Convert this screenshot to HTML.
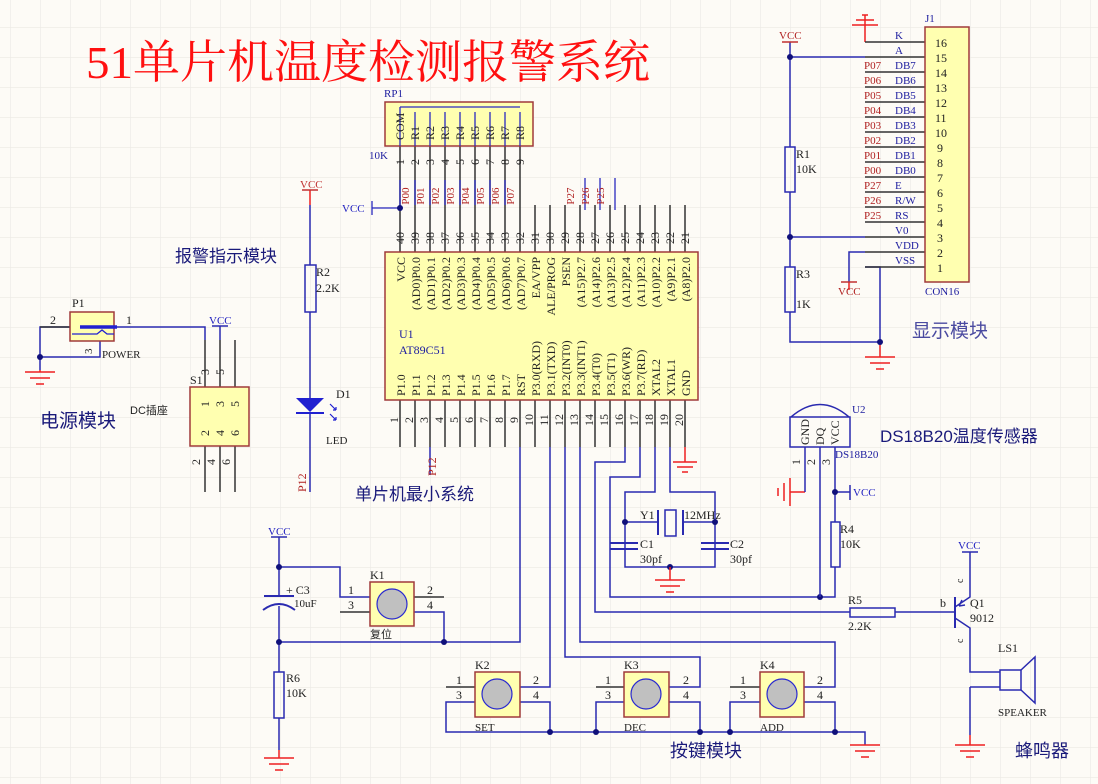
<!DOCTYPE html>
<html><head><meta charset="utf-8"><style>
html,body{margin:0;padding:0;background:#fdfbf6}
svg{display:block}
text{font-family:"Liberation Serif","Noto Serif CJK SC",serif}
.cn{font-family:"Liberation Sans","Noto Sans CJK SC",sans-serif}
</style></head><body>
<svg width="1098" height="784" viewBox="0 0 1098 784" xmlns="http://www.w3.org/2000/svg">
<defs>
<pattern id="g" x="10" y="27" width="30" height="30" patternUnits="userSpaceOnUse">
<path d="M0 0H30M0 0V30" stroke="#ebe9e4" stroke-width="1.2" fill="none"/>
</pattern>
</defs>
<rect width="1098" height="784" fill="#fdfbf6"/>
<rect width="1098" height="784" fill="url(#g)"/>

<!-- Title -->
<text x="86" y="78" font-size="46" fill="#ff1010" textLength="564" lengthAdjust="spacingAndGlyphs" style="font-family:'Liberation Serif','Noto Serif CJK SC',serif">51单片机温度检测报警系统</text>

<!-- ===== U1 ===== -->
<g stroke="#333" stroke-width="1.5">
<line x1="400" y1="222" x2="400" y2="252"/><line x1="415" y1="222" x2="415" y2="252"/><line x1="430" y1="222" x2="430" y2="252"/><line x1="445" y1="222" x2="445" y2="252"/><line x1="460" y1="222" x2="460" y2="252"/><line x1="475" y1="222" x2="475" y2="252"/><line x1="490" y1="222" x2="490" y2="252"/><line x1="505" y1="222" x2="505" y2="252"/><line x1="520" y1="222" x2="520" y2="252"/><line x1="535" y1="205" x2="535" y2="252"/><line x1="550" y1="205" x2="550" y2="252"/><line x1="565" y1="205" x2="565" y2="252"/><line x1="580" y1="205" x2="580" y2="252"/><line x1="595" y1="205" x2="595" y2="252"/><line x1="610" y1="205" x2="610" y2="252"/><line x1="625" y1="205" x2="625" y2="252"/><line x1="640" y1="205" x2="640" y2="252"/><line x1="655" y1="205" x2="655" y2="252"/><line x1="670" y1="205" x2="670" y2="252"/><line x1="685" y1="205" x2="685" y2="252"/>
<line x1="400" y1="400" x2="400" y2="447"/><line x1="415" y1="400" x2="415" y2="447"/><line x1="430" y1="400" x2="430" y2="447"/><line x1="445" y1="400" x2="445" y2="447"/><line x1="460" y1="400" x2="460" y2="447"/><line x1="475" y1="400" x2="475" y2="447"/><line x1="490" y1="400" x2="490" y2="447"/><line x1="505" y1="400" x2="505" y2="447"/><line x1="520" y1="400" x2="520" y2="447"/><line x1="535" y1="400" x2="535" y2="447"/><line x1="550" y1="400" x2="550" y2="447"/><line x1="565" y1="400" x2="565" y2="447"/><line x1="580" y1="400" x2="580" y2="447"/><line x1="595" y1="400" x2="595" y2="447"/><line x1="610" y1="400" x2="610" y2="447"/><line x1="625" y1="400" x2="625" y2="447"/><line x1="640" y1="400" x2="640" y2="447"/><line x1="655" y1="400" x2="655" y2="447"/><line x1="670" y1="400" x2="670" y2="447"/><line x1="685" y1="400" x2="685" y2="447"/>
</g>
<rect x="385" y="252" width="313" height="148" fill="#ffffb0" stroke="#a03a3a" stroke-width="1.5"/>
<g font-size="12" fill="#222">
<text transform="translate(404,238) rotate(-90)" text-anchor="middle">40</text><text transform="translate(419,238) rotate(-90)" text-anchor="middle">39</text><text transform="translate(434,238) rotate(-90)" text-anchor="middle">38</text><text transform="translate(449,238) rotate(-90)" text-anchor="middle">37</text><text transform="translate(464,238) rotate(-90)" text-anchor="middle">36</text><text transform="translate(479,238) rotate(-90)" text-anchor="middle">35</text><text transform="translate(494,238) rotate(-90)" text-anchor="middle">34</text><text transform="translate(509,238) rotate(-90)" text-anchor="middle">33</text><text transform="translate(524,238) rotate(-90)" text-anchor="middle">32</text><text transform="translate(539,238) rotate(-90)" text-anchor="middle">31</text><text transform="translate(554,238) rotate(-90)" text-anchor="middle">30</text><text transform="translate(569,238) rotate(-90)" text-anchor="middle">29</text><text transform="translate(584,238) rotate(-90)" text-anchor="middle">28</text><text transform="translate(599,238) rotate(-90)" text-anchor="middle">27</text><text transform="translate(614,238) rotate(-90)" text-anchor="middle">26</text><text transform="translate(629,238) rotate(-90)" text-anchor="middle">25</text><text transform="translate(644,238) rotate(-90)" text-anchor="middle">24</text><text transform="translate(659,238) rotate(-90)" text-anchor="middle">23</text><text transform="translate(674,238) rotate(-90)" text-anchor="middle">22</text><text transform="translate(689,238) rotate(-90)" text-anchor="middle">21</text>
<text transform="translate(398,420) rotate(-90)" text-anchor="middle">1</text><text transform="translate(413,420) rotate(-90)" text-anchor="middle">2</text><text transform="translate(428,420) rotate(-90)" text-anchor="middle">3</text><text transform="translate(443,420) rotate(-90)" text-anchor="middle">4</text><text transform="translate(458,420) rotate(-90)" text-anchor="middle">5</text><text transform="translate(473,420) rotate(-90)" text-anchor="middle">6</text><text transform="translate(488,420) rotate(-90)" text-anchor="middle">7</text><text transform="translate(503,420) rotate(-90)" text-anchor="middle">8</text><text transform="translate(518,420) rotate(-90)" text-anchor="middle">9</text><text transform="translate(533,420) rotate(-90)" text-anchor="middle">10</text><text transform="translate(548,420) rotate(-90)" text-anchor="middle">11</text><text transform="translate(563,420) rotate(-90)" text-anchor="middle">12</text><text transform="translate(578,420) rotate(-90)" text-anchor="middle">13</text><text transform="translate(593,420) rotate(-90)" text-anchor="middle">14</text><text transform="translate(608,420) rotate(-90)" text-anchor="middle">15</text><text transform="translate(623,420) rotate(-90)" text-anchor="middle">16</text><text transform="translate(638,420) rotate(-90)" text-anchor="middle">17</text><text transform="translate(653,420) rotate(-90)" text-anchor="middle">18</text><text transform="translate(668,420) rotate(-90)" text-anchor="middle">19</text><text transform="translate(683,420) rotate(-90)" text-anchor="middle">20</text>
</g>
<g font-size="12" fill="#222" text-anchor="end">
<text transform="translate(405,257) rotate(-90)">VCC</text><text transform="translate(420,257) rotate(-90)">(AD0)P0.0</text><text transform="translate(435,257) rotate(-90)">(AD1)P0.1</text><text transform="translate(450,257) rotate(-90)">(AD2)P0.2</text><text transform="translate(465,257) rotate(-90)">(AD3)P0.3</text><text transform="translate(480,257) rotate(-90)">(AD4)P0.4</text><text transform="translate(495,257) rotate(-90)">(AD5)P0.5</text><text transform="translate(510,257) rotate(-90)">(AD6)P0.6</text><text transform="translate(525,257) rotate(-90)">(AD7)P0.7</text><text transform="translate(540,257) rotate(-90)">EA/VPP</text><text transform="translate(555,257) rotate(-90)">ALE/PROG</text><text transform="translate(570,257) rotate(-90)">PSEN</text><text transform="translate(585,257) rotate(-90)">(A15)P2.7</text><text transform="translate(600,257) rotate(-90)">(A14)P2.6</text><text transform="translate(615,257) rotate(-90)">(A13)P2.5</text><text transform="translate(630,257) rotate(-90)">(A12)P2.4</text><text transform="translate(645,257) rotate(-90)">(A11)P2.3</text><text transform="translate(660,257) rotate(-90)">(A10)P2.2</text><text transform="translate(675,257) rotate(-90)">(A9)P2.1</text><text transform="translate(690,257) rotate(-90)">(A8)P2.0</text>
</g>
<g font-size="12" fill="#222" text-anchor="start">
<text transform="translate(405,396) rotate(-90)">P1.0</text><text transform="translate(420,396) rotate(-90)">P1.1</text><text transform="translate(435,396) rotate(-90)">P1.2</text><text transform="translate(450,396) rotate(-90)">P1.3</text><text transform="translate(465,396) rotate(-90)">P1.4</text><text transform="translate(480,396) rotate(-90)">P1.5</text><text transform="translate(495,396) rotate(-90)">P1.6</text><text transform="translate(510,396) rotate(-90)">P1.7</text><text transform="translate(525,396) rotate(-90)">RST</text><text transform="translate(540,396) rotate(-90)">P3.0(RXD)</text><text transform="translate(555,396) rotate(-90)">P3.1(TXD)</text><text transform="translate(570,396) rotate(-90)">P3.2(INT0)</text><text transform="translate(585,396) rotate(-90)">P3.3(INT1)</text><text transform="translate(600,396) rotate(-90)">P3.4(T0)</text><text transform="translate(615,396) rotate(-90)">P3.5(T1)</text><text transform="translate(630,396) rotate(-90)">P3.6(WR)</text><text transform="translate(645,396) rotate(-90)">P3.7(RD)</text><text transform="translate(660,396) rotate(-90)">XTAL2</text><text transform="translate(675,396) rotate(-90)">XTAL1</text><text transform="translate(690,396) rotate(-90)">GND</text>
</g>
<text x="399" y="338" font-size="12" fill="#2020a0">U1</text>
<text x="399" y="354" font-size="12" fill="#2020a0">AT89C51</text>

<!-- RP1 -->
<g stroke="#333" stroke-width="1.5">
<line x1="400" y1="146" x2="400" y2="222"/><line x1="415" y1="146" x2="415" y2="222"/><line x1="430" y1="146" x2="430" y2="222"/><line x1="445" y1="146" x2="445" y2="222"/><line x1="460" y1="146" x2="460" y2="222"/><line x1="475" y1="146" x2="475" y2="222"/><line x1="490" y1="146" x2="490" y2="222"/><line x1="505" y1="146" x2="505" y2="222"/><line x1="520" y1="146" x2="520" y2="222"/>
</g>
<rect x="385" y="102" width="148" height="44" fill="#ffffb0" stroke="#a03a3a" stroke-width="1.5"/>
<g stroke="#2a2ac0" stroke-width="1.3" fill="none">
<line x1="400" y1="107" x2="520" y2="107"/>
<line x1="400" y1="107" x2="400" y2="146"/><line x1="415" y1="112" x2="415" y2="146"/><line x1="430" y1="112" x2="430" y2="146"/><line x1="445" y1="112" x2="445" y2="146"/><line x1="460" y1="112" x2="460" y2="146"/><line x1="475" y1="112" x2="475" y2="146"/><line x1="490" y1="112" x2="490" y2="146"/><line x1="505" y1="112" x2="505" y2="146"/><line x1="520" y1="112" x2="520" y2="146"/>
<line x1="400" y1="210" x2="400" y2="180"/><line x1="415" y1="180" x2="415" y2="205"/><line x1="430" y1="180" x2="430" y2="205"/><line x1="445" y1="180" x2="445" y2="205"/><line x1="460" y1="180" x2="460" y2="205"/><line x1="475" y1="180" x2="475" y2="205"/><line x1="490" y1="180" x2="490" y2="205"/><line x1="505" y1="180" x2="505" y2="205"/>
<line x1="585" y1="178" x2="585" y2="210"/><line x1="600" y1="178" x2="600" y2="210"/><line x1="615" y1="178" x2="615" y2="210"/>
<line x1="372" y1="208" x2="400" y2="208"/><line x1="372" y1="201" x2="372" y2="215"/>
</g>
<g font-size="12" fill="#222" text-anchor="start">
<text transform="translate(404,140) rotate(-90)">COM</text><text transform="translate(419,140) rotate(-90)">R1</text><text transform="translate(434,140) rotate(-90)">R2</text><text transform="translate(449,140) rotate(-90)">R3</text><text transform="translate(464,140) rotate(-90)">R4</text><text transform="translate(479,140) rotate(-90)">R5</text><text transform="translate(494,140) rotate(-90)">R6</text><text transform="translate(509,140) rotate(-90)">R7</text><text transform="translate(524,140) rotate(-90)">R8</text>
</g>
<g font-size="12" fill="#222" text-anchor="middle">
<text transform="translate(404,162) rotate(-90)">1</text><text transform="translate(419,162) rotate(-90)">2</text><text transform="translate(434,162) rotate(-90)">3</text><text transform="translate(449,162) rotate(-90)">4</text><text transform="translate(464,162) rotate(-90)">5</text><text transform="translate(479,162) rotate(-90)">6</text><text transform="translate(494,162) rotate(-90)">7</text><text transform="translate(509,162) rotate(-90)">8</text><text transform="translate(524,162) rotate(-90)">9</text>
</g>
<g font-size="11" fill="#b02020" text-anchor="middle">
<text transform="translate(409,196) rotate(-90)">P00</text><text transform="translate(424,196) rotate(-90)">P01</text><text transform="translate(439,196) rotate(-90)">P02</text><text transform="translate(454,196) rotate(-90)">P03</text><text transform="translate(469,196) rotate(-90)">P04</text><text transform="translate(484,196) rotate(-90)">P05</text><text transform="translate(499,196) rotate(-90)">P06</text><text transform="translate(514,196) rotate(-90)">P07</text>
<text transform="translate(574,196) rotate(-90)">P27</text><text transform="translate(589,196) rotate(-90)">P26</text><text transform="translate(604,196) rotate(-90)">P25</text>
</g>
<circle cx="400" cy="208" r="3" fill="#10107a"/>
<text x="384" y="97" font-size="11" fill="#2020a0">RP1</text>
<text x="369" y="159" font-size="11" fill="#2020a0">10K</text>
<text x="342" y="212" font-size="11" fill="#2020c0">VCC</text>

<!-- Bottom wiring -->
<g stroke="#2a2ab0" stroke-width="1.5" fill="none">
<polyline points="520,447 520,642 279,642"/>
<polyline points="430,447 430,475"/>
<polyline points="550,447 550,687 520,687"/>
<polyline points="565,447 565,657 700,657 700,687 669,687"/>
<polyline points="580,447 580,642 835,642 835,687 804,687"/>
<polyline points="625,447 625,462 595,462 595,612 850,612"/>
<polyline points="640,447 640,477 610,477 610,597 835,597 835,567"/>
<polyline points="655,447 655,492 625,492 625,567 715,567 715,492 670,492 670,447"/>
<line x1="625" y1="522" x2="658" y2="522"/><line x1="683" y1="522" x2="715" y2="522"/>
<line x1="610" y1="543" x2="638" y2="543" stroke-width="2"/><line x1="610" y1="549" x2="638" y2="549" stroke-width="2"/>
<line x1="701" y1="543" x2="729" y2="543" stroke-width="2"/><line x1="701" y1="549" x2="729" y2="549" stroke-width="2"/>
<line x1="658" y1="510" x2="658" y2="535" stroke-width="2"/><line x1="683" y1="510" x2="683" y2="535" stroke-width="2"/>
<rect x="665" y="510" width="11" height="26" fill="#fdfbf6"/>
<polyline points="279,567 340,567 340,597 370,597"/>
<polyline points="414,612 444,612 444,642"/>
<polyline points="475,702 446,702 446,732 865,732 865,745"/>
<polyline points="520,702 550,702 550,732"/>
<polyline points="624,702 596,702 596,732"/>
<polyline points="669,702 700,702 700,732"/>
<polyline points="760,702 730,702 730,732"/>
<polyline points="804,702 835,702 835,732"/>
<polyline points="279,537 279,596"/><polyline points="279,606 279,672"/><line x1="279" y1="718" x2="279" y2="750"/>
<line x1="264" y1="596" x2="294" y2="596" stroke-width="2"/>
<path d="M263,610 Q279,598 295,610" stroke-width="2"/>
<rect x="274" y="672" width="10" height="46"/>
<line x1="271" y1="537" x2="287" y2="537"/>
</g>
<g stroke="#333" stroke-width="1.5">
<line x1="340" y1="612" x2="370" y2="612"/><line x1="414" y1="597" x2="444" y2="597"/>
<line x1="446" y1="687" x2="475" y2="687"/><line x1="596" y1="687" x2="624" y2="687"/><line x1="730" y1="687" x2="760" y2="687"/>
</g>
<g fill="#10107a">
<circle cx="279" cy="567" r="3"/><circle cx="279" cy="642" r="3"/><circle cx="444" cy="642" r="3"/>
<circle cx="550" cy="732" r="3"/><circle cx="596" cy="732" r="3"/><circle cx="700" cy="732" r="3"/><circle cx="730" cy="732" r="3"/><circle cx="835" cy="732" r="3"/>
<circle cx="625" cy="522" r="3"/><circle cx="715" cy="522" r="3"/><circle cx="670" cy="567" r="3"/><circle cx="820" cy="597" r="3"/>
</g>
<g stroke="#a03a3a" stroke-width="1.5" fill="#ffffb0">
<rect x="370" y="582" width="44" height="44"/><rect x="475" y="672" width="45" height="45"/><rect x="624" y="672" width="45" height="45"/><rect x="760" y="672" width="44" height="45"/>
</g>
<g stroke="#2a2ad0" stroke-width="1.2" fill="#c0c0c0">
<circle cx="392" cy="604" r="15"/><circle cx="497" cy="694" r="15"/><circle cx="646" cy="694" r="15"/><circle cx="782" cy="694" r="15"/>
</g>
<g font-size="12" fill="#222">
<text x="370" y="579">K1</text><text x="348" y="594">1</text><text x="348" y="609">3</text><text x="427" y="594">2</text><text x="427" y="609">4</text>
<text x="475" y="669">K2</text><text x="456" y="684">1</text><text x="456" y="699">3</text><text x="533" y="684">2</text><text x="533" y="699">4</text>
<text x="624" y="669">K3</text><text x="605" y="684">1</text><text x="605" y="699">3</text><text x="683" y="684">2</text><text x="683" y="699">4</text>
<text x="760" y="669">K4</text><text x="740" y="684">1</text><text x="740" y="699">3</text><text x="817" y="684">2</text><text x="817" y="699">4</text>
<text x="475" y="731" font-size="11">SET</text><text x="624" y="731" font-size="11">DEC</text><text x="760" y="731" font-size="11">ADD</text>
<text x="370" y="638" font-size="11" class="cn">复位</text>
<text x="286" y="594" font-size="12">+ C3</text><text x="294" y="607" font-size="11">10uF</text>
<text x="286" y="682">R6</text><text x="286" y="697">10K</text>
<text x="640" y="519">Y1</text><text x="684" y="519">12MHz</text>
<text x="640" y="548">C1</text><text x="640" y="563">30pf</text>
<text x="730" y="548">C2</text><text x="730" y="563">30pf</text>
</g>
<text x="268" y="535" font-size="11" fill="#2020c0">VCC</text>
<text transform="translate(436,476) rotate(-90)" font-size="12" fill="#b02020">P12</text>
<text x="355" y="500" font-size="17" fill="#1a1a7a" class="cn">单片机最小系统</text>
<text x="670" y="757" font-size="18" fill="#1a1a7a" class="cn">按键模块</text>

<g stroke="#ee2020" stroke-width="1.5" fill="none">
<path d="M685,447V462M673,462H697M677,467H693M682,472H688"/>
<path d="M670,567V580M655,580H685M660,586H680M666,592H674"/>
<path d="M279,750V758M264,758H294M269,764H289M275,770H283"/>
<path d="M850,745H880M855,751H875M861,757H869"/>
<path d="M970,735V745M955,745H985M960,751H980M966,757H974"/>
<path d="M805,492H790M790,478V506M784,483V501M778,488V496"/>
<path d="M310,190V205"/>
<path d="M40,370V372M25,372H55M30,378H50M36,384H44"/>
<path d="M880,342V357M865,357H895M870,363H890M876,369H884"/>
<path d="M865,15V42M852,25H878M856,20H874M862,15H868"/>
<path d="M849,282V290"/>
</g>

<!-- Left: power -->
<g stroke="#2a2ab0" stroke-width="1.5" fill="none">
<polyline points="114,327 205,327 205,340"/>
<polyline points="100,341 100,357 40,357 40,327 70,327"/>
<line x1="40" y1="357" x2="40" y2="370"/>
<line x1="220" y1="326" x2="220" y2="340"/><line x1="212" y1="326" x2="228" y2="326"/>
</g>
<g stroke="#333" stroke-width="1.5"><line x1="40" y1="327" x2="70" y2="327"/>
<line x1="205" y1="340" x2="205" y2="387"/><line x1="220" y1="340" x2="220" y2="387"/><line x1="235" y1="340" x2="235" y2="387"/>
<line x1="205" y1="446" x2="205" y2="492"/><line x1="220" y1="446" x2="220" y2="492"/><line x1="235" y1="446" x2="235" y2="492"/></g>
<rect x="70" y="312" width="44" height="29" fill="#ffffb0" stroke="#a03a3a" stroke-width="1.5"/>
<line x1="80" y1="327" x2="117" y2="327" stroke="#2020d0" stroke-width="3.5"/>
<path d="M72,334H97L102,330L107,334H114" stroke="#2020d0" stroke-width="1.3" fill="none"/>
<circle cx="40" cy="357" r="3" fill="#10107a"/>
<rect x="190" y="387" width="59" height="59" fill="#ffffb0" stroke="#a03a3a" stroke-width="1.5"/>
<g font-size="12" fill="#222">
<text x="72" y="307">P1</text><text x="50" y="324">2</text><text x="126" y="324">1</text>
<text x="102" y="358" font-size="11">POWER</text><text transform="translate(92,354) rotate(-90)" font-size="11">3</text>
<text x="190" y="384">S1</text>
<text transform="translate(209,404) rotate(-90)" text-anchor="middle">1</text><text transform="translate(224,404) rotate(-90)" text-anchor="middle">3</text><text transform="translate(239,404) rotate(-90)" text-anchor="middle">5</text>
<text transform="translate(209,433) rotate(-90)" text-anchor="middle">2</text><text transform="translate(224,433) rotate(-90)" text-anchor="middle">4</text><text transform="translate(239,433) rotate(-90)" text-anchor="middle">6</text>
<text transform="translate(209,372) rotate(-90)" text-anchor="middle">3</text><text transform="translate(224,372) rotate(-90)" text-anchor="middle">5</text>
<text transform="translate(200,462) rotate(-90)" text-anchor="middle">2</text><text transform="translate(215,462) rotate(-90)" text-anchor="middle">4</text><text transform="translate(230,462) rotate(-90)" text-anchor="middle">6</text>
<text x="130" y="414" font-size="11" class="cn">DC插座</text>
</g>
<text x="209" y="324" font-size="11" fill="#2020c0">VCC</text>
<text x="40" y="427" font-size="19" fill="#1a1a7a" class="cn">电源模块</text>

<!-- R2 / LED -->
<g stroke="#2a2ab0" stroke-width="1.5" fill="none">
<line x1="310" y1="205" x2="310" y2="265"/><line x1="310" y1="312" x2="310" y2="400"/><line x1="310" y1="412" x2="310" y2="492"/>
<rect x="305" y="265" width="11" height="47"/>
</g>
<line x1="302" y1="190" x2="318" y2="190" stroke="#c03030" stroke-width="1.5"/>
<polygon points="296,398 324,398 310,412" fill="#2020d0"/><line x1="296" y1="413" x2="324" y2="413" stroke="#2020d0" stroke-width="2"/>
<path d="M330,404l6,6M336,410l-3,0M336,410l0,-3M330,414l6,6M336,420l-3,0M336,420l0,-3" stroke="#2020d0" stroke-width="1.2" fill="none"/>
<text x="300" y="188" font-size="11" fill="#c03030">VCC</text>
<g font-size="12" fill="#222"><text x="316" y="276">R2</text><text x="316" y="292">2.2K</text><text x="336" y="398">D1</text><text x="326" y="444" font-size="11">LED</text></g>
<text transform="translate(306,492) rotate(-90)" font-size="12" fill="#b02020">P12</text>
<text x="175" y="262" font-size="17" fill="#1a1a7a" class="cn">报警指示模块</text>

<!-- J1 LCD -->
<g stroke="#2a2ab0" stroke-width="1.5" fill="none">
<polyline points="790,42 790,147"/><polyline points="790,192 790,267"/><polyline points="790,312 790,342 880,342"/>
<rect x="785" y="147" width="10" height="45"/><rect x="785" y="267" width="10" height="45"/>
<line x1="790" y1="57" x2="865" y2="57"/><line x1="790" y1="237" x2="865" y2="237"/>
<polyline points="849,282 849,252 865,252"/>
<polyline points="880,342 880,267 865,267"/>
<line x1="782" y1="42" x2="798" y2="42" stroke="#c03030"/>
<line x1="841" y1="282" x2="857" y2="282" stroke="#c03030"/>
</g>
<g stroke="#333" stroke-width="1.5">
<line x1="865" y1="42" x2="925" y2="42"/><line x1="865" y1="57" x2="925" y2="57"/><line x1="865" y1="72" x2="925" y2="72"/><line x1="865" y1="87" x2="925" y2="87"/><line x1="865" y1="102" x2="925" y2="102"/><line x1="865" y1="117" x2="925" y2="117"/><line x1="865" y1="132" x2="925" y2="132"/><line x1="865" y1="147" x2="925" y2="147"/><line x1="865" y1="162" x2="925" y2="162"/><line x1="865" y1="177" x2="925" y2="177"/><line x1="865" y1="192" x2="925" y2="192"/><line x1="865" y1="207" x2="925" y2="207"/><line x1="865" y1="222" x2="925" y2="222"/><line x1="865" y1="237" x2="925" y2="237"/><line x1="865" y1="252" x2="925" y2="252"/><line x1="865" y1="267" x2="925" y2="267"/>
</g>
<circle cx="790" cy="57" r="3" fill="#10107a"/><circle cx="790" cy="237" r="3" fill="#10107a"/><circle cx="880" cy="342" r="3" fill="#10107a"/>
<rect x="925" y="27" width="44" height="255" fill="#ffffb0" stroke="#a03a3a" stroke-width="1.5"/>
<g font-size="12" fill="#222">
<text x="935" y="47">16</text><text x="935" y="62">15</text><text x="935" y="77">14</text><text x="935" y="92">13</text><text x="935" y="107">12</text><text x="935" y="122">11</text><text x="935" y="137">10</text><text x="937" y="152">9</text><text x="937" y="167">8</text><text x="937" y="182">7</text><text x="937" y="197">6</text><text x="937" y="212">5</text><text x="937" y="227">4</text><text x="937" y="242">3</text><text x="937" y="257">2</text><text x="937" y="272">1</text>
</g>
<g font-size="11" fill="#2020a0">
<text x="895" y="39">K</text><text x="895" y="54">A</text><text x="895" y="69">DB7</text><text x="895" y="84">DB6</text><text x="895" y="99">DB5</text><text x="895" y="114">DB4</text><text x="895" y="129">DB3</text><text x="895" y="144">DB2</text><text x="895" y="159">DB1</text><text x="895" y="174">DB0</text><text x="895" y="189">E</text><text x="895" y="204">R/W</text><text x="895" y="219">RS</text><text x="895" y="234">V0</text><text x="895" y="249">VDD</text><text x="895" y="264">VSS</text>
<text x="925" y="22">J1</text><text x="925" y="295">CON16</text>
</g>
<g font-size="11" fill="#b02020">
<text x="864" y="69">P07</text><text x="864" y="84">P06</text><text x="864" y="99">P05</text><text x="864" y="114">P04</text><text x="864" y="129">P03</text><text x="864" y="144">P02</text><text x="864" y="159">P01</text><text x="864" y="174">P00</text><text x="864" y="189">P27</text><text x="864" y="204">P26</text><text x="864" y="219">P25</text>
<text x="779" y="39">VCC</text><text x="838" y="295">VCC</text>
</g>
<g font-size="12" fill="#222"><text x="796" y="158">R1</text><text x="796" y="173">10K</text><text x="796" y="278">R3</text><text x="796" y="308">1K</text></g>
<text x="912" y="337" font-size="19" fill="#4a4aa0" class="cn">显示模块</text>

<!-- DS18B20 -->
<g stroke="#2a2ab0" stroke-width="1.5" fill="none">
<path d="M791,417 Q820,392 849,417"/>
<rect x="790" y="417" width="60" height="30"/>
<line x1="805" y1="447" x2="805" y2="492"/><line x1="820" y1="447" x2="820" y2="597"/>
<line x1="835" y1="447" x2="835" y2="522"/><rect x="831" y="522" width="9" height="45"/>
<line x1="835" y1="492" x2="850" y2="492"/><line x1="850" y1="485" x2="850" y2="500"/>
<rect x="850" y="608" width="45" height="9"/>
<line x1="895" y1="612" x2="955" y2="612"/>
<line x1="955" y1="597" x2="955" y2="628" stroke-width="2"/>
<path d="M955,607L970,597V552M962,552H978M955,618L970,628V672H1000M970,687H1000M970,687V735"/>
<path d="M959,606l3,-6M959,606l6,-1"/>
<rect x="1000" y="670" width="21" height="20"/>
<path d="M1021,670L1035,657V703L1021,690"/>
</g>
<circle cx="835" cy="492" r="3" fill="#10107a"/>
<g font-size="12" fill="#222"><text x="840" y="533">R4</text><text x="840" y="548">10K</text>
<text x="848" y="604">R5</text><text x="848" y="630">2.2K</text>
<text x="940" y="607">b</text><text x="970" y="607">Q1</text><text x="970" y="622">9012</text>
<text transform="translate(963,583) rotate(-90)" font-size="10">c</text><text transform="translate(963,643) rotate(-90)" font-size="10">c</text>
<text x="998" y="652">LS1</text><text x="998" y="716" font-size="11">SPEAKER</text>
</g>
<g font-size="12" fill="#222" text-anchor="start">
<text transform="translate(809,445) rotate(-90)">GND</text><text transform="translate(824,445) rotate(-90)">DQ</text><text transform="translate(839,445) rotate(-90)">VCC</text>
</g>
<g font-size="12" fill="#222" text-anchor="middle">
<text transform="translate(800,462) rotate(-90)">1</text><text transform="translate(815,462) rotate(-90)">2</text><text transform="translate(830,462) rotate(-90)">3</text>
</g>
<g font-size="11" fill="#2020a0"><text x="852" y="413">U2</text><text x="835" y="458">DS18B20</text></g>
<text x="853" y="496" font-size="11" fill="#2020c0">VCC</text>
<text x="958" y="549" font-size="11" fill="#2020c0">VCC</text>
<text x="880" y="442" font-size="17" fill="#1a1a7a" class="cn">DS18B20温度传感器</text>
<text x="1015" y="757" font-size="18" fill="#1a1a7a" class="cn">蜂鸣器</text>
</svg>
</body></html>
